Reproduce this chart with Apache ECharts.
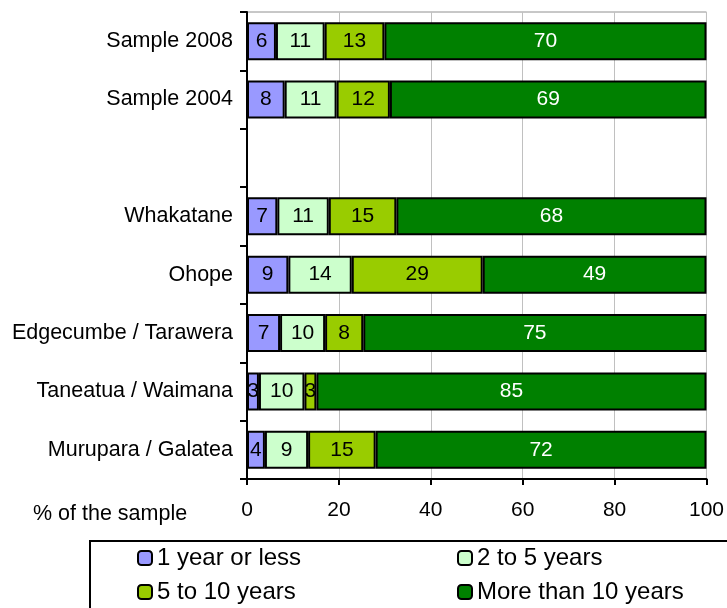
<!DOCTYPE html>
<html>
<head>
<meta charset="utf-8">
<script src="https://cdn.jsdelivr.net/npm/echarts@6/dist/echarts.min.js"></script>
<style>
html,body{margin:0;padding:0;background:#fff;}
#chart{width:727px;height:608px;}
</style>
</head>
<body>
<div id="chart"></div>
<script>
var categories = ['Murupara / Galatea', 'Taneatua / Waimana', 'Edgecumbe / Tarawera', 'Ohope', 'Whakatane', '', 'Sample 2004', 'Sample 2008'];
var seriesNames = ['1 year or less', '2 to 5 years', '5 to 10 years', 'More than 10 years'];
var oneYearOrLess = [3.9, 2.6, 7.2, 9.0, 6.6, null, 8.2, 6.3];
var twoToFive = [9.4, 9.9, 9.8, 13.8, 11.2, null, 11.3, 10.6];
var fiveToTen = [14.7, 2.6, 8.3, 28.5, 14.7, null, 11.6, 13.0];
var moreThanTen = [72.0, 84.9, 74.7, 48.7, 67.5, null, 68.9, 70.1];
var xTicks = [0, 20, 40, 60, 80, 100];
var colors = ['#9999ff', '#ccffcc', '#99cc00', '#008000'];
var labelColors = ['#000', '#000', '#000', '#fff'];
var values = [oneYearOrLess, twoToFive, fiveToTen, moreThanTen];

var FONT = 'Liberation Sans, Arial, sans-serif';
var chart = echarts.init(document.getElementById('chart'), null, {renderer: 'canvas'});

var series = values.map(function (arr, i) {
  return {
    name: seriesNames[i],
    type: 'bar',
    stack: 'total',
    barWidth: 38,
    data: arr,
    itemStyle: {color: colors[i], borderColor: '#000', borderWidth: 2},
    label: {
      show: true,
      position: 'inside',
      color: labelColors[i],
      fontFamily: FONT,
      fontSize: 21,
      formatter: function (p) { return p.value == null ? '' : String(Math.round(p.value)); }
    },
    emphasis: {disabled: true},
    animation: false
  };
});

chart.setOption({
  animation: false,
  textStyle: {fontFamily: FONT},
  grid: {left: 247, right: 18.5, top: 12, bottom: 129, show: true, borderColor: '#909090', borderWidth: 1, containLabel: false},
  xAxis: {
    type: 'value',
    min: xTicks[0],
    max: xTicks[xTicks.length - 1],
    interval: 20,
    axisLine: {show: true, lineStyle: {color: '#000', width: 2}},
    axisTick: {show: true, length: 6, lineStyle: {color: '#000', width: 2}},
    axisLabel: {color: '#000', fontSize: 21, fontFamily: FONT, margin: 21},
    splitLine: {show: true, lineStyle: {color: '#c0c0c0', width: 1}}
  },
  yAxis: {
    type: 'category',
    data: categories,
    axisLine: {show: true, lineStyle: {color: '#000', width: 2}},
    axisTick: {show: true, length: 7, lineStyle: {color: '#000', width: 2}},
    axisLabel: {color: '#000', fontSize: 21.5, fontFamily: FONT, margin: 14},
    splitLine: {show: false}
  },
  legend: [
    {
      data: [seriesNames[0], seriesNames[2]],
      orient: 'vertical',
      left: 137, top: 545, padding: 0,
      itemWidth: 14, itemHeight: 14, itemGap: 8,
      textStyle: {color: '#000', fontSize: 24, fontFamily: FONT, lineHeight: 26},
      selectedMode: false
    },
    {
      data: [seriesNames[1], seriesNames[3]],
      orient: 'vertical',
      left: 457, top: 545, padding: 0,
      itemWidth: 14, itemHeight: 14, itemGap: 8,
      textStyle: {color: '#000', fontSize: 24, fontFamily: FONT, lineHeight: 26},
      selectedMode: false
    }
  ],
  graphic: [
    {
      type: 'rect',
      shape: {x: 90, y: 541, width: 700, height: 120},
      style: {fill: 'none', stroke: '#000', lineWidth: 2},
      z: -1
    },
    {
      type: 'text',
      left: 33, top: 503,
      style: {text: '% of the sample', fill: '#000', fontSize: 21.5, fontFamily: FONT}
    }
  ],
  series: series
});
</script>
</body>
</html>
